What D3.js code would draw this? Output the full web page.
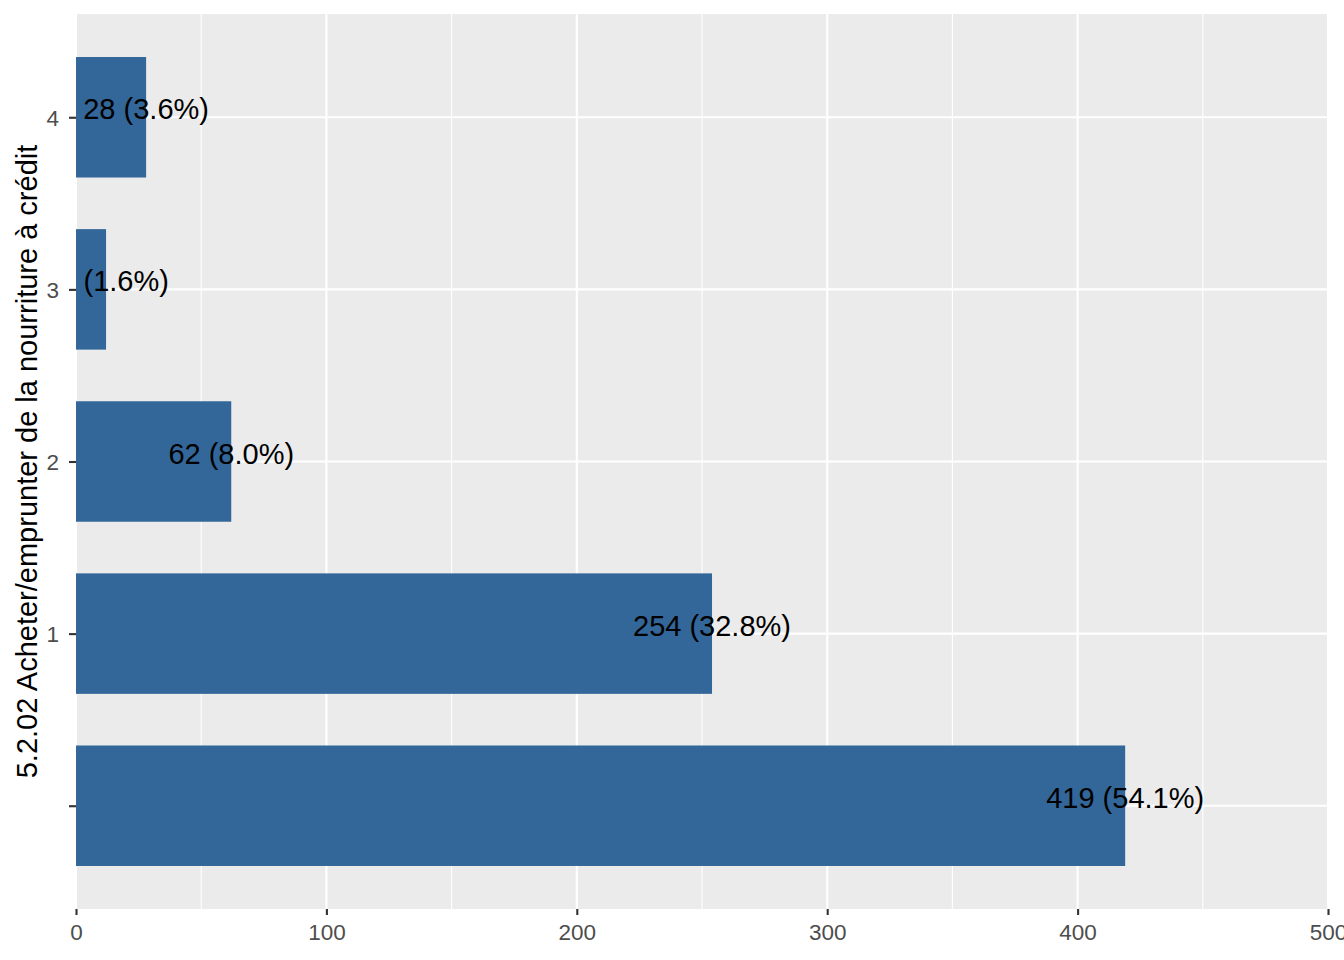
<!DOCTYPE html>
<html><head><meta charset="utf-8">
<script src="https://cdn.jsdelivr.net/npm/d3@7"></script>
<style>body{margin:0;background:#fff}svg{display:block}</style>
</head><body>
<script>
const categories = ["", "1", "2", "3", "4"];
const counts = [419, 254, 62, 12, 28];
const percents = ["54.1", "32.8", "8.0", "1.6", "3.6"];
const xTicks = [0, 100, 200, 300, 400, 500];
const xMinor = [50, 150, 250, 350, 450];
const yTitle = "5.2.02 Acheter/emprunter de la nourriture à crédit";

(function () {
const W = 1344, H = 960;
const pL = 76, pR = 1328, pT = 14, pB = 909;
const font = "'Liberation Sans', Arial, sans-serif";

const svg = d3.select("body").append("svg").attr("width", W).attr("height", H);

const x = d3.scaleLinear().domain([0, 500]).range([pL, pR]);
const unit = (pB - pT) / (categories.length - 1 + 1.2);
const y = d3.scalePoint().domain(categories.slice().reverse())
  .range([pT + 0.6 * unit, pB - 0.6 * unit]);

svg.append("defs").append("clipPath").attr("id", "panel")
  .append("rect").attr("x", pL).attr("y", pT).attr("width", pR - pL).attr("height", pB - pT);

svg.append("rect").attr("x", pL).attr("y", pT).attr("width", pR - pL).attr("height", pB - pT)
  .attr("fill", "#EBEBEB");

const g = svg.append("g").attr("clip-path", "url(#panel)");

g.selectAll("line.minor").data(xMinor).join("line").attr("class", "minor")
  .attr("x1", d => x(d)).attr("x2", d => x(d)).attr("y1", pT).attr("y2", pB)
  .attr("stroke", "#fff").attr("stroke-width", 1.1);
g.selectAll("line.majx").data(xTicks).join("line").attr("class", "majx")
  .attr("x1", d => x(d)).attr("x2", d => x(d)).attr("y1", pT).attr("y2", pB)
  .attr("stroke", "#fff").attr("stroke-width", 2.1);
g.selectAll("line.majy").data(categories).join("line").attr("class", "majy")
  .attr("x1", pL).attr("x2", pR).attr("y1", d => y(d)).attr("y2", d => y(d))
  .attr("stroke", "#fff").attr("stroke-width", 2.1);

const bh = 0.7 * unit;
g.selectAll("rect.bar").data(categories).join("rect").attr("class", "bar")
  .attr("x", x(0)).attr("y", d => y(d) - bh / 2)
  .attr("width", (d, i) => x(counts[i]) - x(0)).attr("height", bh)
  .attr("fill", "#336699");

g.selectAll("text.lab").data(categories).join("text").attr("class", "lab")
  .attr("x", (d, i) => x(counts[i])).attr("y", d => y(d) + 2)
  .attr("text-anchor", "middle").attr("font-family", font).attr("font-size", 29)
  .attr("fill", "#000")
  .text((d, i) => `${counts[i]} (${percents[i]}%)`);

const xa = svg.append("g").attr("transform", `translate(0,${pB})`)
  .call(d3.axisBottom(x).tickValues(xTicks).tickSize(6).tickPadding(9).tickFormat(d3.format("d")));
xa.select(".domain").remove();
xa.selectAll("line").attr("stroke", "#333").attr("stroke-width", 2.1);
xa.selectAll("text").attr("font-family", font).attr("font-size", 22.5).attr("fill", "#4D4D4D")
  .attr("dy", "0.71em");

const ya = svg.append("g").attr("transform", `translate(${pL},0)`)
  .call(d3.axisLeft(y).tickSize(7).tickPadding(10));
ya.select(".domain").remove();
ya.selectAll("line").attr("stroke", "#333").attr("stroke-width", 2.1);
ya.selectAll("text").attr("font-family", font).attr("font-size", 22.5).attr("fill", "#4D4D4D")
  .attr("dy", "0.36em");

svg.append("text")
  .attr("transform", `translate(37,${(pT + pB) / 2}) rotate(-90)`)
  .attr("text-anchor", "middle").attr("font-family", font).attr("font-size", 29)
  .attr("fill", "#000").text(yTitle);
})();
</script>
</body></html>
